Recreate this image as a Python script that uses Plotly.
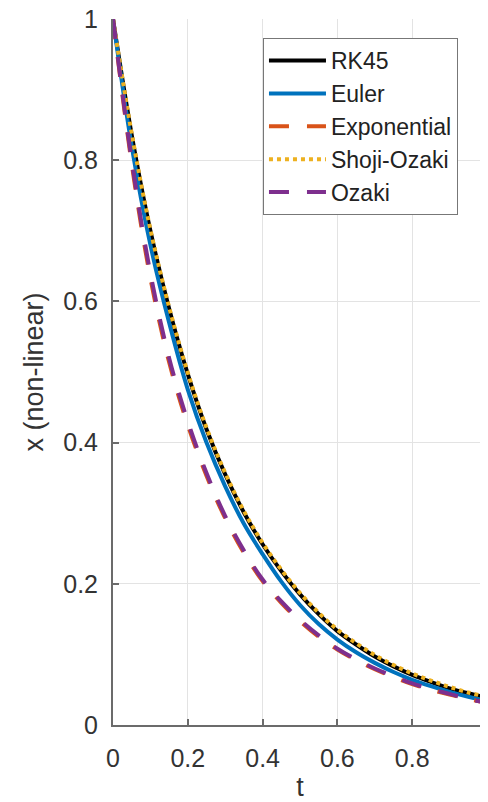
import plotly.graph_objects as go

t = [0.0, 0.05, 0.1, 0.15, 0.2, 0.25, 0.3, 0.35, 0.4, 0.45, 0.5,
     0.55, 0.6, 0.65, 0.7, 0.75, 0.8, 0.85, 0.9, 0.95, 1.0]

rk45 = [1.0, 0.836, 0.700, 0.590, 0.497, 0.419, 0.355, 0.301, 0.256, 0.218, 0.185,
        0.157, 0.133, 0.114, 0.097, 0.083, 0.071, 0.061, 0.052, 0.045, 0.039]
euler = [1.0, 0.820, 0.680, 0.570, 0.475, 0.400, 0.338, 0.285, 0.242, 0.203, 0.170,
         0.143, 0.121, 0.103, 0.088, 0.075, 0.064, 0.055, 0.047, 0.040, 0.034]
exponential = [1.0, 0.795, 0.633, 0.514, 0.425, 0.353, 0.293, 0.244, 0.204, 0.173, 0.147,
               0.125, 0.107, 0.092, 0.079, 0.068, 0.058, 0.050, 0.043, 0.037, 0.031]
shoji_ozaki = [1.0, 0.838, 0.702, 0.592, 0.499, 0.421, 0.357, 0.303, 0.258, 0.220, 0.187,
               0.159, 0.135, 0.116, 0.099, 0.085, 0.073, 0.063, 0.054, 0.046, 0.040]
ozaki = [1.0, 0.800, 0.640, 0.520, 0.430, 0.357, 0.296, 0.247, 0.206, 0.175, 0.149,
         0.127, 0.108, 0.093, 0.080, 0.069, 0.059, 0.051, 0.044, 0.037, 0.031]

series = [
    ("RK45", rk45, "#000000", "solid"),
    ("Euler", euler, "#0072BD", "solid"),
    ("Exponential", exponential, "#D95319", "20px,18px"),
    ("Shoji-Ozaki", shoji_ozaki, "#EDB120", "4px,4px"),
    ("Ozaki", ozaki, "#7E2F8E", "20px,18px"),
]

xticks = [0, 0.2, 0.4, 0.6, 0.8, 1]
yticks = [0, 0.2, 0.4, 0.6, 0.8, 1]

fig = go.Figure()
for name, vals, color, dash in series:
    fig.add_trace(go.Scatter(
        x=t, y=vals, mode="lines", name=name,
        line=dict(color=color, width=4, dash=dash, shape="spline"),
    ))

axis_common = dict(
    showgrid=True, gridcolor="#e3e3e3", gridwidth=1,
    showline=True, linecolor="#6b6b6b", linewidth=2,
    ticks="inside", ticklen=6, tickcolor="#6b6b6b", tickwidth=1.5,
    zeroline=False, automargin=False, ticklabeloverflow="allow",
    tickfont=dict(family="Liberation Sans, Arial", size=25, color="#333333"),
    title_font=dict(family="Liberation Sans, Arial", size=27, color="#333333"),
)

# page body has an 8px default margin; the figure is sized to fit the window
fig.update_layout(
    width=480, height=794,
    margin=dict(l=105, r=1, t=11, b=77),
    plot_bgcolor="white", paper_bgcolor="white",
    showlegend=True,
    legend=dict(
        x=0.401, y=0.973, xanchor="left", yanchor="top",
        bgcolor="white", bordercolor="#777777", borderwidth=1,
        font=dict(family="Liberation Sans, Arial", size=23, color="#222222"),
        itemwidth=57,
    ),
)
fig.update_xaxes(range=[0, 1], tickvals=xticks, title_text="t",
                 title_standoff=8, ticklabelstandoff=10, **axis_common)
fig.update_yaxes(range=[0, 1], tickvals=yticks, title_text="x (non-linear)",
                 title_standoff=12, ticklabelstandoff=8, **axis_common)

fig.write_html("out.html")
